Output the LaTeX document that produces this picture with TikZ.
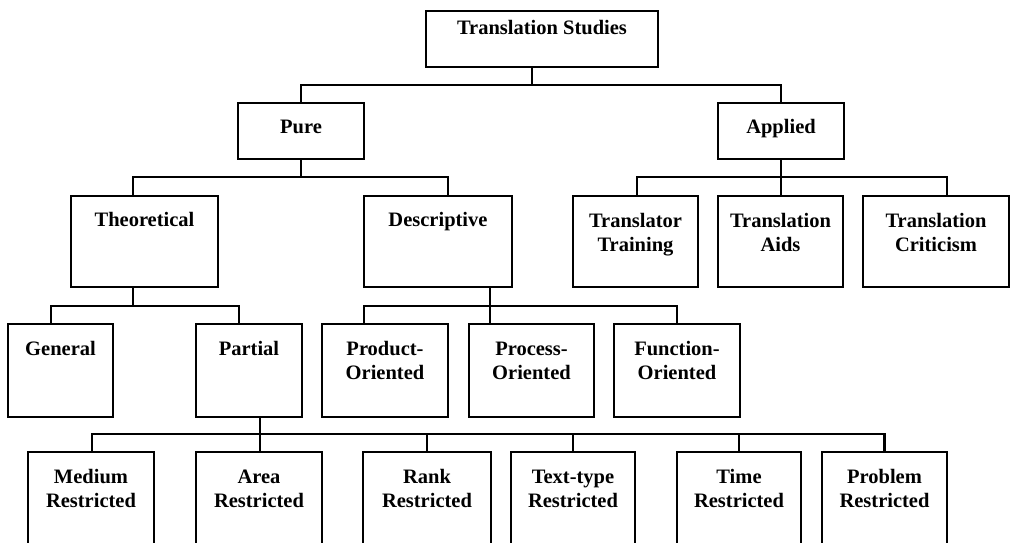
\documentclass[tikz,border=0pt]{standalone}
\usepackage{fontspec}
\setmainfont{Liberation Serif}
\begin{document}
\begin{tikzpicture}[x=1pt,y=-1pt,
  box/.style={draw, line width=2.8pt, rectangle, inner sep=0pt, outer sep=0pt, anchor=north west},
  lbl/.style={font=\fontsize{20.5}{24}\selectfont\bfseries, align=center, inner sep=0pt, anchor=base},
  link/.style={line width=2.8pt}]
\useasboundingbox (0,0) rectangle (1011,542);
\clip (0,0) rectangle (1011,542);

% level 0
\node[box, minimum width=232pt, minimum height=56pt] (ts) at (426,11) {};
% level 1
\node[box, minimum width=126pt, minimum height=56pt] (pure) at (238,103) {};
\node[box, minimum width=126pt, minimum height=56pt] (applied) at (718,103) {};
% level 2
\node[box, minimum width=147pt, minimum height=91pt] (theo) at (71,196) {};
\node[box, minimum width=148pt, minimum height=91pt] (desc) at (364,196) {};
\node[box, minimum width=125pt, minimum height=91pt] (tt) at (573,196) {};
\node[box, minimum width=125pt, minimum height=91pt] (ta) at (718,196) {};
\node[box, minimum width=146pt, minimum height=91pt] (tc) at (863,196) {};
% level 3
\node[box, minimum width=105pt, minimum height=93pt] (general) at (8,324) {};
\node[box, minimum width=106pt, minimum height=93pt] (partial) at (196,324) {};
\node[box, minimum width=126pt, minimum height=93pt] (product) at (322,324) {};
\node[box, minimum width=125pt, minimum height=93pt] (process) at (469,324) {};
\node[box, minimum width=126pt, minimum height=93pt] (function) at (614,324) {};
% level 4 (runs off the lower edge)
\node[box, minimum width=126pt, minimum height=110pt] (medium) at (28,452) {};
\node[box, minimum width=126pt, minimum height=110pt] (area) at (196,452) {};
\node[box, minimum width=128pt, minimum height=110pt] (rank) at (363,452) {};
\node[box, minimum width=124pt, minimum height=110pt] (texttype) at (511,452) {};
\node[box, minimum width=124pt, minimum height=110pt] (time) at (677,452) {};
\node[box, minimum width=125pt, minimum height=110pt] (problem) at (822,452) {};

% labels (base anchor sits on the last line)
\node[lbl] (tsl) at (542,34) {Translation Studies};
\node[lbl] (purel) at (301,133) {Pure};
\node[lbl] (appliedl) at (781,133) {Applied};
\node[lbl] (theol) at (144.5,226) {Theoretical};
\node[lbl] (descl) at (438,226) {Descriptive};
\node[lbl] (ttl) at (635.5,251) {Translator\\Training};
\node[lbl] (tal) at (780.5,251) {Translation\\Aids};
\node[lbl] (tcl) at (936,251) {Translation\\Criticism};
\node[lbl] (generall) at (60.5,355) {General};
\node[lbl] (partiall) at (249,355) {Partial};
\node[lbl] (productl) at (385,379) {Product-\\Oriented};
\node[lbl] (processl) at (531.5,379) {Process-\\Oriented};
\node[lbl] (functionl) at (677,379) {Function-\\Oriented};
\node[lbl] (mediuml) at (91,507) {Medium\\Restricted};
\node[lbl] (areal) at (259,507) {Area\\Restricted};
\node[lbl] (rankl) at (427,507) {Rank\\Restricted};
\node[lbl] (texttypel) at (573,507) {Text-type\\Restricted};
\node[lbl] (timel) at (739,507) {Time\\Restricted};
\node[lbl] (probleml) at (884.5,507) {Problem\\Restricted};

% connectors
\draw[link] ([xshift=-10pt]ts.south) -- ++(0,18) coordinate (tsbus);
\draw[link] (tsbus) -| (pure.north);
\draw[link] (tsbus) -| (applied.north);

\draw[link] (pure.south) -- ++(0,18) coordinate (purebus);
\draw[link] (purebus) -| ([xshift=-11.5pt]theo.north);
\draw[link] (purebus) -| ([xshift=10pt]desc.north);

\draw[link] (applied.south) -- ++(0,18) coordinate (appbus);
\draw[link] (appbus) -| ([xshift=1.5pt]tt.north);
\draw[link] (appbus) -- (appbus |- ta.north);
\draw[link] (appbus) -| ([xshift=11pt]tc.north);

\draw[link] ([xshift=-11.5pt]theo.south) -- ++(0,19) coordinate (theobus);
\draw[link] (theobus) -| ([xshift=-9.5pt]general.north);
\draw[link] (theobus) -| ([xshift=-10pt]partial.north);

\draw[link] ([xshift=52pt]desc.south) -- ++(0,19) coordinate (descbus);
\draw[link] (descbus) -| ([xshift=-21pt]product.north);
\draw[link] (descbus) -- (descbus |- process.north);
\draw[link] (descbus) -| (function.north);

\draw[link] ([xshift=11pt]partial.south) -- ++(0,17) coordinate (partbus);
\draw[link] (partbus) -| ([xshift=1pt]medium.north);
\draw[link] (partbus) -- (partbus |- area.north);
\draw[link] (partbus) -| (rank.north);
\draw[link] (partbus) -| (texttype.north);
\draw[link] (partbus) -| (time.north);
\draw[link] (partbus) -| (problem.north);
\end{tikzpicture}
\end{document}
